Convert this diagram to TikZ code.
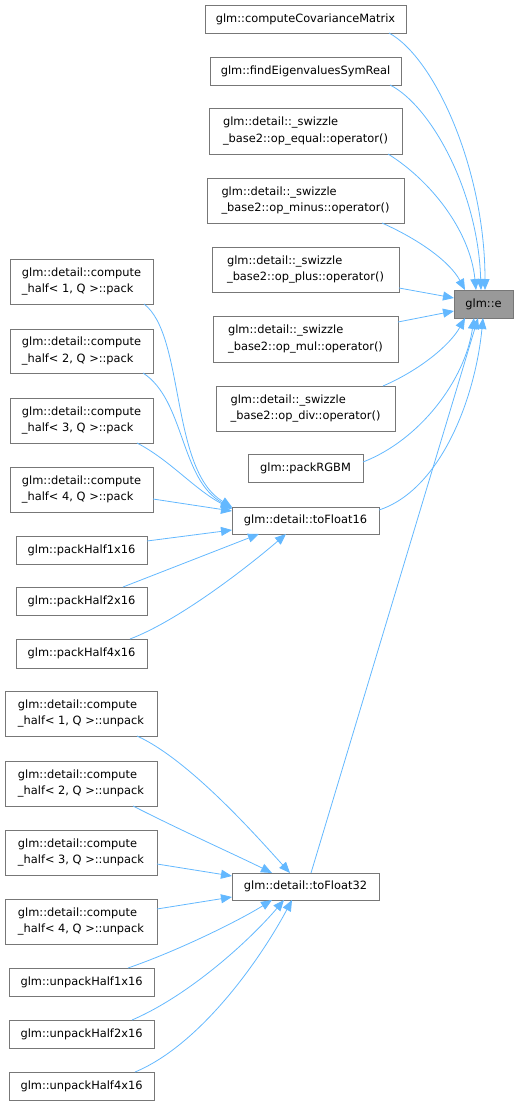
\documentclass[tikz,border=0pt]{standalone}
\usepackage{fontspec}
\setmainfont{DejaVu Sans}
\usetikzlibrary{arrows.meta}
\definecolor{edgec}{HTML}{63B8FF}
\definecolor{bord}{HTML}{777777}
\definecolor{mainfill}{HTML}{999999}
\tikzset{
  box/.style={draw=bord, line width=0.9pt, fill=white, inner sep=0pt, outer sep=0pt, align=left},
  mainbox/.style={box, fill=mainfill},
  edge/.style={draw=edgec, line width=0.8pt, -{Triangle[length=11pt,width=9pt]}}
}
\newcommand\bx[7][box]{\node[#1, minimum width={(#5-#3)*1pt}, minimum height={(#6-#4)*1pt}] (#2) at ({(#3+#5)/2},{(#4+#6)/2}) {#7};}
\begin{document}
\begin{tikzpicture}[x=1pt, y=-1pt, font=\fontsize{11.4}{16.5}\selectfont]
\useasboundingbox (0,0) rectangle (519,1105);
% nodes
\bx{ccm}{205}{5}{406}{33}{glm::computeCovarianceMatrix}
\bx{fev}{210}{57}{401}{85}{glm::findEigenvaluesSymReal}
\bx{oeq}{209}{108}{402}{154}{glm::detail::\_swizzle\\\_base2::op\_equal::operator()}
\bx{omi}{207}{178}{404}{223}{glm::detail::\_swizzle\\\_base2::op\_minus::operator()}
\bx{opl}{212}{247}{399}{292}{glm::detail::\_swizzle\\\_base2::op\_plus::operator()}
\bx[mainbox]{e}{454}{290}{513}{318}{glm::e}
\bx{omu}{213}{316}{398}{362}{glm::detail::\_swizzle\\\_base2::op\_mul::operator()}
\bx{odi}{216}{386}{395}{431}{glm::detail::\_swizzle\\\_base2::op\_div::operator()}
\bx{rgbm}{248}{454}{363}{482}{glm::packRGBM}
\bx{tf16}{232}{507}{379}{534}{glm::detail::toFloat16}
\bx{p1}{10}{259}{153}{304}{glm::detail::compute\\\_half< 1, Q >::pack}
\bx{p2}{10}{329}{153}{373}{glm::detail::compute\\\_half< 2, Q >::pack}
\bx{p3}{10}{398}{153}{443}{glm::detail::compute\\\_half< 3, Q >::pack}
\bx{p4}{10}{467}{153}{512}{glm::detail::compute\\\_half< 4, Q >::pack}
\bx{ph1}{16}{536}{147}{564}{glm::packHalf1x16}
\bx{ph2}{16}{587}{147}{615}{glm::packHalf2x16}
\bx{ph4}{16}{639}{147}{668}{glm::packHalf4x16}
\bx{u1}{5}{691}{157}{736}{glm::detail::compute\\\_half< 1, Q >::unpack}
\bx{u2}{5}{761}{157}{806}{glm::detail::compute\\\_half< 2, Q >::unpack}
\bx{u3}{5}{830}{157}{875}{glm::detail::compute\\\_half< 3, Q >::unpack}
\bx{tf32}{232}{873}{379}{900}{glm::detail::toFloat32}
\bx{u4}{5}{899}{157}{944}{glm::detail::compute\\\_half< 4, Q >::unpack}
\bx{uh1}{9}{968}{154}{996}{glm::unpackHalf1x16}
\bx{uh2}{9}{1020}{154}{1048}{glm::unpackHalf2x16}
\bx{uh4}{9}{1072}{154}{1100}{glm::unpackHalf4x16}
% edges into glm::e
\draw[edge] (ccm.south -| 389,0) .. controls (435,58) and (485,170) .. (e.north -| 485,0);
\draw[edge] (fev.south -| 390,0) .. controls (430,105) and (478,190) .. (e.north -| 481,0);
\draw[edge] (oeq.south -| 388,0) .. controls (430,180) and (470,230) .. (e.north -| 476,0);
\draw[edge] (omi.south -| 382,0) .. controls (420,240) and (450,262) .. (e.north -| 465,0);
\draw[edge] (opl.east |- 0,288) -- (e.west |- 0,298);
\draw[edge] (omu.east |- 0,322) -- (e.west |- 0,311);
\draw[edge] (odi.north -| 383,0) .. controls (420,370) and (450,345) .. (e.south -| 465,0);
\draw[edge] (rgbm.east |- 0,462) .. controls (420,440) and (465,380) .. (e.south -| 474,0);
\draw[edge] (tf16.east |- 0,510) .. controls (440,490) and (475,400) .. (e.south -| 483,0);
\draw[edge] (tf32.north -| 311,0) -- (e.south -| 478,0);
% edges into toFloat16
\draw[edge] (p1.south -| 144,0) .. controls (185,335) and (170,470) .. (tf16.west |- 0,507);
\draw[edge] (p2.south -| 143,0) .. controls (185,400) and (180,480) .. (tf16.west |- 0,508);
\draw[edge] (p3.south -| 137,0) .. controls (170,460) and (195,490) .. (tf16.west |- 0,509);
\draw[edge] (p4.east |- 0,499) -- (tf16.west |- 0,511);
\draw[edge] (ph1.east |- 0,541) -- (tf16.west |- 0,530);
\draw[edge] (ph2.north -| 123,0) -- (tf16.south -| 259,0);
\draw[edge] (ph4.north -| 130,0) .. controls (180,620) and (250,565) .. (tf16.south -| 286,0);
% edges into toFloat32
\draw[edge] (u1.south -| 137,0) .. controls (190,760) and (260,840) .. (tf32.north -| 290,0);
\draw[edge] (u2.south -| 133,0) .. controls (180,830) and (240,857) .. (tf32.north -| 272,0);
\draw[edge] (u3.east |- 0,864) -- (tf32.west |- 0,876);
\draw[edge] (u4.east |- 0,909) -- (tf32.west |- 0,897);
\draw[edge] (uh1.north -| 128,0) .. controls (180,950) and (240,920) .. (tf32.south -| 272,0);
\draw[edge] (uh2.north -| 132,0) .. controls (190,995) and (250,940) .. (tf32.south -| 284,0);
\draw[edge] (uh4.north -| 135,0) .. controls (200,1045) and (260,960) .. (tf32.south -| 292,0);
\end{tikzpicture}
\end{document}
